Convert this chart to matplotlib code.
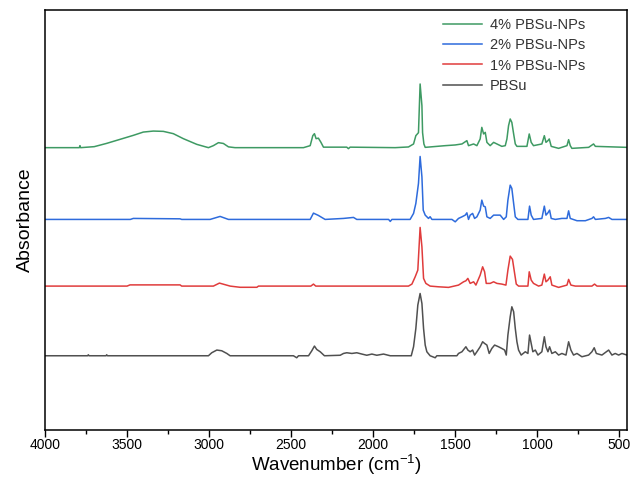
import numpy as np
import matplotlib
matplotlib.use("Agg")
import matplotlib.pyplot as plt
from matplotlib.ticker import MultipleLocator

plt.rcParams['font.family'] = ['Liberation Sans', 'DejaVu Sans']
plt.rcParams['mathtext.fontset'] = 'custom'
plt.rcParams['mathtext.rm'] = 'Liberation Sans'

# FTIR spectra, absorbance above each trace's own baseline
wn_pbsu = [4000, 3740, 3736, 3732, 3628, 3624, 3620, 3004, 2984, 2953, 2923, 2892, 2872,
           2486, 2466, 2455, 2394, 2374, 2358, 2344, 2323, 2297, 2201, 2181, 2161, 2130,
           2100, 2069, 2039, 2008, 1978, 1937, 1896, 1768, 1754, 1740, 1728, 1714, 1703,
           1693, 1683, 1673, 1653, 1622, 1612, 1490, 1480, 1459, 1435, 1423, 1409, 1394,
           1382, 1368, 1348, 1333, 1321, 1307, 1293, 1277, 1260, 1236, 1216, 1199, 1189,
           1179, 1165, 1155, 1144, 1134, 1124, 1114, 1098, 1073, 1057, 1047, 1037, 1027,
           1012, 996, 972, 957, 947, 935, 925, 911, 890, 870, 850, 825, 809, 795, 779,
           758, 728, 687, 667, 653, 640, 606, 565, 545, 525, 504, 484, 453]
ab_pbsu = [0, 0, 0.01, 0, 0, 0.01, 0, 0, 0.03, 0.057, 0.05, 0.023, 0,
           0, -0.02, 0, 0, 0.05, 0.097, 0.063, 0.04, 0, 0.005, 0.023, 0.03, 0.023,
           0.03, 0.017, 0.005, 0.017, 0.005, 0.017, 0, 0, 0.09, 0.273, 0.507, 0.623, 0.523,
           0.273, 0.107, 0.04, 0, -0.02, 0, 0, 0.023, 0.04, 0.09, 0.057, 0.04, 0.057,
           0.007, 0.04, 0.09, 0.14, 0.123, 0.107, 0.023, 0.073, 0.107, 0.09, 0.073, 0.057, 0.007,
           0.207, 0.39, 0.49, 0.44, 0.273, 0.14, 0.057, 0.007, 0.04, 0.023, 0.207, 0.123, 0.04,
           0.057, 0.007, 0.04, 0.19, 0.09, 0.04, 0.09, 0.023, 0.04, 0.007, 0.023, 0.007, 0.14, 0.057, 0.007,
           0.023, -0.01, 0.007, 0.04, 0.08, 0.023, 0.007, 0.057, 0.007, 0.023, 0.007, 0.023, 0.007]

wn_1 = [4000, 3500, 3482, 3177, 3167, 2974, 2937, 2872, 2811, 2709, 2699, 2380, 2364, 2350,
        1866, 1785, 1764, 1744, 1728, 1714, 1703, 1693, 1679, 1653, 1602, 1541, 1480, 1449,
        1435, 1423, 1409, 1388, 1374, 1348, 1333, 1321, 1311, 1287, 1266, 1246, 1216, 1191,
        1179, 1165, 1151, 1138, 1128, 1114, 1057, 1049, 1037, 1023, 992, 972, 957, 947, 935,
        921, 911, 870, 819, 809, 795, 768, 667, 651, 636, 453]
ab_1 = [0, 0, 0.012, 0.012, 0, 0, 0.03, 0, -0.012, -0.012, 0, 0, 0.02, 0,
        0, 0, 0.02, 0.093, 0.16, 0.587, 0.393, 0.077, 0.027, 0, -0.007, -0.013, 0.01, 0.043,
        0.053, 0.077, 0.027, 0.043, 0.01, 0.11, 0.193, 0.143, 0.027, 0.027, 0.043, 0.027, 0.02, 0.01,
        0.16, 0.30, 0.267, 0.127, 0.02, 0, 0, 0.143, 0.06, 0.027, 0, 0.01, 0.12, 0.043, 0.06,
        0.093, 0.01, -0.013, 0.01, 0.067, 0.01, 0, 0, 0.02, 0, 0]

wn_2 = [4000, 3480, 3462, 3177, 3167, 2994, 2933, 2882, 2384, 2364, 2334, 2293, 2181, 2120,
        2100, 1906, 1896, 1886, 1775, 1754, 1740, 1724, 1714, 1703, 1695, 1683, 1663, 1653,
        1642, 1520, 1500, 1480, 1459, 1439, 1429, 1419, 1409, 1394, 1382, 1368, 1348, 1338,
        1327, 1317, 1307, 1287, 1266, 1226, 1205, 1189, 1179, 1165, 1155, 1144, 1134, 1118,
        1057, 1047, 1037, 1023, 972, 957, 947, 935, 925, 915, 890, 850, 819, 809, 799, 758,
        707, 667, 657, 646, 585, 565, 545, 453]
ab_2 = [0, 0, 0.01, 0.006, 0, 0, 0.03, 0, 0, 0.063, 0.04, 0, 0.01, 0.02,
        0, 0, -0.02, 0, 0, 0.06, 0.16, 0.36, 0.63, 0.426, 0.093, 0.043, 0.01, 0.027,
        0, 0, -0.024, 0.01, 0.026, 0.043, 0.066, 0, 0.043, 0.06, 0.01, 0.026, 0.093, 0.193,
        0.133, 0.126, 0.026, 0.01, 0.043, 0.043, 0, 0.026, 0.193, 0.343, 0.31, 0.16, 0.026, 0,
        0, 0.133, 0.043, 0, 0.01, 0.133, 0.043, 0.066, 0.093, 0.01, 0, 0.01, 0.01, 0.086, 0.01, -0.013,
        -0.013, 0.01, 0.026, 0, 0.01, 0.02, 0, 0]

wn_4 = [4000, 3791, 3787, 3783, 3700, 3624, 3543, 3462, 3401, 3340, 3279, 3218, 3157, 3075,
        3004, 2974, 2943, 2913, 2882, 2842, 2425, 2384, 2368, 2358, 2348, 2334, 2319, 2303,
        2161, 2151, 2141, 1866, 1785, 1754, 1740, 1724, 1714, 1703, 1699, 1691, 1683, 1561,
        1500, 1459, 1429, 1419, 1388, 1368, 1348, 1338, 1327, 1317, 1307, 1287, 1266, 1246,
        1216, 1195, 1185, 1175, 1165, 1155, 1144, 1134, 1124, 1063, 1049, 1037, 1023, 972,
        957, 947, 935, 927, 915, 870, 819, 809, 799, 789, 687, 657, 646, 453]
ab_4 = [0, 0, 0.02, 0, 0.01, 0.043, 0.083, 0.123, 0.156, 0.166, 0.163, 0.14, 0.09, 0.033,
        0, 0.02, 0.05, 0.042, 0.008, 0, 0, 0.02, 0.12, 0.14, 0.09, 0.095, 0.055, 0.005,
        0.005, -0.01, 0.005, 0, 0.007, 0.037, 0.12, 0.15, 0.637, 0.42, 0.15, 0.037, 0.003, 0.02,
        0.027, 0.037, 0.07, 0.02, 0.037, 0.02, 0.087, 0.203, 0.137, 0.153, 0.053, 0.02, 0.053, 0.037,
        0.013, 0.02, 0.087, 0.22, 0.287, 0.253, 0.137, 0.037, 0.013, 0.013, 0.137, 0.053, 0.02, 0.037,
        0.12, 0.053, 0.07, 0.087, 0.013, -0.007, 0.02, 0.08, 0.02, -0.007, 0.003, 0.037, 0.013, 0.003]

labels = ['PBSu', '1% PBSu-NPs', '2% PBSu-NPs', '4% PBSu-NPs']
colors = ['#505050', '#e03c3c', '#2e6bdc', '#3e9a63']
offsets = [0.743, 1.44, 2.107, 2.825]
spectra = [(wn_pbsu, ab_pbsu), (wn_1, ab_1), (wn_2, ab_2), (wn_4, ab_4)]

fig = plt.figure(figsize=(6.34, 4.87), dpi=100)
ax = fig.add_axes([0.071, 0.117, 0.918, 0.862])

lines = []
for (wn, ab), off, c, lab in zip(spectra, offsets, colors, labels):
    ln, = ax.plot(wn, np.array(ab) + off, color=c, lw=1.1, label=lab)
    lines.append(ln)

ax.set_xlim(4000, 453)
ax.set_ylim(0, 4.2)
ax.xaxis.set_major_locator(MultipleLocator(500))
ax.xaxis.set_minor_locator(MultipleLocator(250))
ax.tick_params(axis='x', which='major', direction='out', length=5, width=1, labelsize=10, pad=1)
ax.tick_params(axis='x', which='minor', direction='out', length=3, width=1)
ax.set_yticks([])
for s in ax.spines.values():
    s.set_linewidth(1.1)

ax.set_xlabel('Wavenumber (cm$^{-1}$)', fontsize=13.5, labelpad=0)
ax.set_ylabel('Absorbance', fontsize=14, labelpad=8)

ax.legend(lines[::-1], labels[::-1], loc='upper right', bbox_to_anchor=(0.95, 1.012),
          frameon=False, fontsize=10.5, handlelength=2.7, handletextpad=0.5,
          labelspacing=0.42, labelcolor='#333333')

fig.savefig('out.png', dpi=100)
